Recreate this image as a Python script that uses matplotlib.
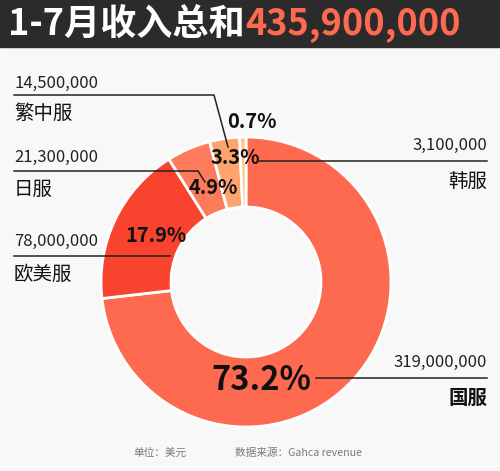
import matplotlib
matplotlib.use("Agg")
import matplotlib.pyplot as plt

plt.rcParams['font.family'] = ['Noto Sans CJK SC', 'DejaVu Sans']

# data
servers = ["国服", "欧美服", "日服", "繁中服", "韩服"]
revenue = [319000000, 78000000, 21300000, 14500000, 3100000]
colors = ["#fe6a4f", "#f8432f", "#fd7b5b", "#fda46f", "#fdc68a"]
title_left = "1-7月收入总和"
title_total = "{:,}".format(sum(revenue))

W, H = 500, 471
fig = plt.figure(figsize=(5, 4.71), dpi=100, facecolor="#f8f8f8")
ax = fig.add_axes([0, 0, 1, 1])
ax.set_facecolor("#f8f8f8")

def Y(y):
    # pixel row -> data y
    return H - y

# donut
cx, cy, R = 246, 282, 145
wedges, _ = ax.pie(revenue, colors=colors, startangle=90, counterclock=False,
                   radius=R, center=(cx, Y(cy)),
                   wedgeprops=dict(width=70, edgecolor="white", linewidth=2))
ax.set_xlim(0, W)
ax.set_ylim(0, H)
ax.set_aspect("equal")
ax.axis("off")

# header band
ax.add_patch(plt.Rectangle((0, Y(47)), W, 47, color="#2b2b2b", zorder=5))
t = ax.text(8, Y(24), title_left, color="white", fontsize=26, fontweight="heavy",
            va="center", ha="left", zorder=6)
fig.canvas.draw()
bb = t.get_window_extent()
ax.text(bb.x1 + 1, Y(24), title_total,
        color="#fe6a4f", fontsize=26, fontweight="heavy", va="center", ha="left", zorder=6)

# percentages
pct = [v / sum(revenue) * 100 for v in revenue]
pct_pos = [(261, 381, 23.5), (156, 236, 14.5), (213, 187, 14.5), (235, 157, 14.5), (252, 122, 14.5)]
for p, (x, y, fs) in zip(pct, pct_pos):
    ax.text(x, Y(y), "{:.1f}%".format(p), fontsize=fs, fontweight="heavy",
            color="#111111", ha="center", va="center", zorder=4)

line_kw = dict(color="#222222", lw=1.1, zorder=4)

# left labels: value, leader line, name
left = [(3, 83, 95, [(14, 95), (214, 95), (228, 147)]),
        (2, 157, 171, [(14, 171), (198, 171), (205, 182)]),
        (1, 241, 256, [(14, 256), (170, 256)])]
for i, yv, yl, pts in left:
    ax.text(14, Y(yv), "{:,}".format(revenue[i]), fontsize=12, color="#222222",
            ha="left", va="center")
    ax.plot([p[0] for p in pts], [Y(p[1]) for p in pts], **line_kw)
    ax.text(14, Y(yl + 18), servers[i], fontsize=14, fontweight="medium",
            color="#111111", ha="left", va="center")

# right labels
right = [(4, 145, 161, 258, "medium"), (0, 362, 378, 316, "bold")]
for i, yv, yl, x0, wt in right:
    ax.text(487, Y(yv), "{:,}".format(revenue[i]), fontsize=12, color="#222222",
            ha="right", va="center")
    ax.plot([x0, 487], [Y(yl), Y(yl)], **line_kw)
    ax.text(487, Y(yl + 20), servers[i], fontsize=14, color="#111111",
            fontweight=wt, ha="right", va="center")

# footer
ax.text(133, Y(453), "单位：美元", fontsize=7.7, color="#7a7a7a", ha="left", va="center")
ax.text(235, Y(453), "数据来源：Gahca revenue", fontsize=7.7, color="#7a7a7a",
        ha="left", va="center")

fig.savefig("out.png", dpi=100, facecolor=fig.get_facecolor())
